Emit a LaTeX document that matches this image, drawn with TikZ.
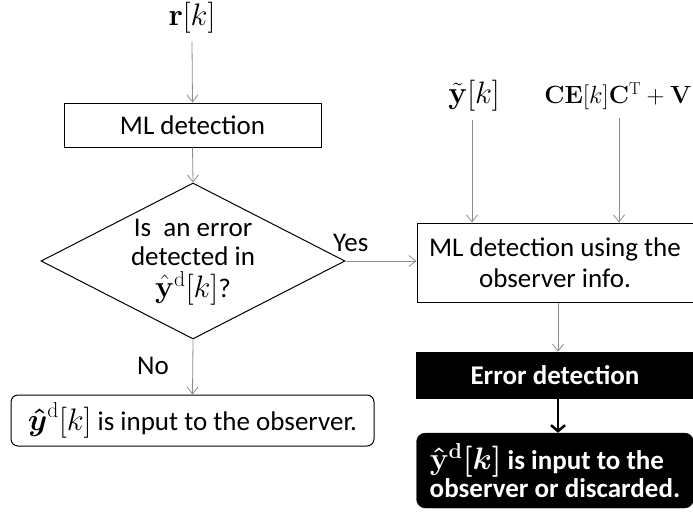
\documentclass[tikz,border=0pt]{standalone}
\usepackage{amsmath}
\usepackage{graphicx}
\usepackage[no-math]{fontspec}
\setmainfont{Carlito}
\usetikzlibrary{shapes.geometric,arrows.meta}
\newcommand{\lgmath}[1]{\scalebox{1.25}{$#1$}}
\begin{document}
\begin{tikzpicture}[x=1pt,y=-1pt,
  every node/.style={font=\fontsize{27}{31}\selectfont},
  garrow/.style={draw=black!45,line width=0.8pt,-{Straight Barb[length=7pt,width=11pt]}},
  whitebox/.style={draw=black,line width=1pt,fill=white,inner sep=0pt},
  blackbox/.style={draw=black,fill=black,text=white,inner sep=0pt,font=\fontsize{27}{28}\selectfont\bfseries\boldmath},
  lbl/.style={inner sep=0pt}]
\useasboundingbox (0,0) rectangle (693,519);
% left column
\node[lbl] (r) at (192,18) {\lgmath{\mathbf{r}[k]}};
\node[whitebox,minimum width=257pt,minimum height=44pt] (ml) at (192.5,125) {ML detection};
\node[diamond,draw=black,line width=1pt,inner sep=0pt,minimum width=304pt,minimum height=156pt] (dec) at (193,261) {};
\node[align=center,inner sep=0pt,font=\fontsize{27}{29}\selectfont] (dtext) at (193,262) {Is\ \ an error\\detected in\\[3pt]\lgmath{\hat{\mathbf{y}}^{\mathrm{d}}[k]}?};
\node[lbl] (no) at (153,366) {No};
\node[whitebox,rounded corners=7pt,minimum width=363pt,minimum height=51pt] (obs) at (192.5,420.5) {\lgmath{\boldsymbol{\hat{y}}^{\mathrm{d}}[k]} is input to the observer.};
% right column
\node[lbl] (yt) at (474,96) {\lgmath{\tilde{\mathbf{y}}[k]}};
\node[lbl] (ce) at (618,96) {$\mathbf{CE}[k]\mathbf{C}^{\mathrm{T}}+\mathbf{V}$};
\node[whitebox,align=center,minimum width=276pt,minimum height=79pt,font=\fontsize{27}{31}\selectfont] (mlo) at (555,262.5) {ML detection using the\\observer info.};
\node[blackbox,minimum width=277pt,minimum height=46pt] (ed) at (555,375) {Error detection};
\node[blackbox,rounded corners=9pt,align=left,minimum width=277pt,minimum height=75pt] (res) at (555,470.5) {\lgmath{\hat{\mathbf{y}}^{\mathrm{d}}[k]} is input to the\\observer or discarded.};
\node[lbl,anchor=south west] (yes) at (333,252) {Yes};
% connectors
\draw[garrow] (r.south) ++(0,8) coordinate (rs) (rs) -- (ml.north);
\draw[garrow] (ml.south) -- (dec.north);
\draw[garrow] (dec.south) -- (obs.north);
\draw[garrow] (dec.east) -- (mlo.west |- dec.east);
\draw[garrow] (yt.south) ++(-2,8) coordinate (yts) (yts) -- (yts |- mlo.north);
\draw[garrow] (ce.south) ++(1,8) coordinate (ces) (ces) -- (ces |- mlo.north);
\draw[garrow] (mlo.south) ++(3,0) coordinate (mlos) (mlos) -- (mlos |- ed.north);
\draw[line width=2.5pt,-{Straight Barb[length=6pt,width=14pt]}] (ed.south) ++(3,0) coordinate (eds) (eds) -- (eds |- res.north);
\end{tikzpicture}
\end{document}
